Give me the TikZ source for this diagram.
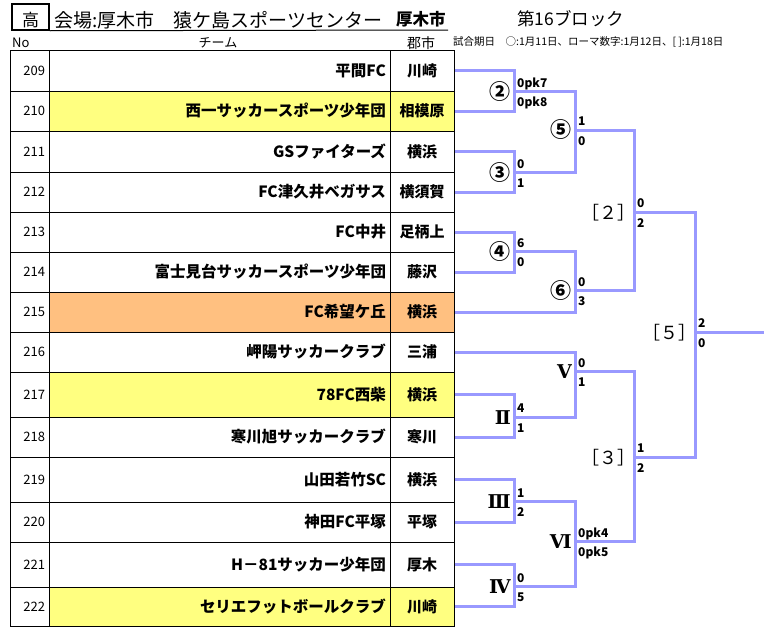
\documentclass[tikz,border=0pt]{standalone}
\usepackage{fontspec}
\setmainfont{Noto Sans CJK JP}
\newfontfamily\romfont{DejaVu Serif}
\definecolor{bline}{RGB}{153,153,255}
\definecolor{hlyellow}{RGB}{255,255,128}
\definecolor{hlorange}{RGB}{255,192,128}

\begin{document}
\begin{tikzpicture}[x=1pt,y=-1pt,
		cell/.style={draw,line width=1pt,inner ysep=0pt},
		nocell/.style={cell,fill=white,text width=31pt,inner xsep=4pt,align=right,font=\fontsize{13}{13}\selectfont},
		teamcell/.style={cell,fill=white,text width=333pt,inner xsep=4pt,align=right,font=\fontsize{15.5}{15.5}\selectfont\bfseries},
		citycell/.style={cell,fill=white,text width=56pt,inner xsep=4pt,align=center,font=\fontsize{15}{15}\selectfont\bfseries},
		bracket/.style={draw=bline,line width=3pt},
		sc/.style={font=\fontsize{12}{12}\selectfont\bfseries,inner sep=1pt,text height=9pt,text depth=2.5pt},
		sct/.style={sc,anchor=south west,xshift=2pt,yshift=1pt},
		scb/.style={sc,anchor=north west,xshift=2pt,yshift=-5pt},
		lab/.style={anchor=east,inner sep=0pt,xshift=-3pt,font=\fontsize{21}{21}\selectfont\bfseries},
		romlab/.style={lab,font=\fontsize{19}{19}\selectfont\romfont\bfseries},
		brlab/.style={anchor=east,inner sep=0pt,xshift=2pt,font=\fontsize{18}{18}\selectfont}]
		\useasboundingbox[fill=white] (0,0) rectangle (764,632);
		% header
		\node[draw,line width=1.5pt,minimum width=37pt,minimum height=26pt,inner sep=0pt](hbox) at (30.5,17) {};
		\node[font=\fontsize{17}{17}\selectfont](hmark) at (30.5,20) {高};
		\node[anchor=west,inner sep=0pt,font=\fontsize{19}{19}\selectfont](venue) at (54,20) {会場:厚木市　猿ケ島スポーツセンター};
		\node[anchor=west,inner sep=0pt,font=\fontsize{16.5}{16.5}\selectfont\bfseries](vcity) at (396,19) {厚木市};
		\node[anchor=west,inner sep=0pt,font=\fontsize{17.5}{17.5}\selectfont](block) at (517,19) {第16ブロック};
		\coordinate (ulend) at (448,30);
		\draw[line width=1pt] (hbox.south east) -- (ulend);
		\node[anchor=west,inner sep=0pt,font=\fontsize{13}{13}\selectfont](hno) at (12,43) {No};
		\node[inner sep=0pt,font=\fontsize{13}{13}\selectfont](hteam) at (218,43) {チーム};
		\node[inner sep=0pt,font=\fontsize{14}{14}\selectfont](hcity) at (421,43) {郡市};
		\node[anchor=west,inner sep=0pt,font=\fontsize{10.5}{10.5}\selectfont](legend) at (453,42) {試合期日　○:1月11日、ローマ数字:1月12日、[ ]:1月18日};
		% rows
		\node[nocell,minimum height=41pt](n209) at (29.5,70.5) {209};
		\node[teamcell,minimum height=41pt](t209) at (219.5,70.5) {平間FC};
		\node[citycell,minimum height=41pt](c209) at (422,70.5) {川崎};
		\node[nocell,minimum height=40pt](n210) at (29.5,111) {210};
		\node[teamcell,fill=hlyellow,minimum height=40pt](t210) at (219.5,111) {西一サッカースポーツ少年団};
		\node[citycell,fill=hlyellow,minimum height=40pt](c210) at (422,111) {相模原};
		\node[nocell,minimum height=41pt](n211) at (29.5,151.5) {211};
		\node[teamcell,minimum height=41pt](t211) at (219.5,151.5) {GSファイターズ};
		\node[citycell,minimum height=41pt](c211) at (422,151.5) {横浜};
		\node[nocell,minimum height=40pt](n212) at (29.5,192) {212};
		\node[teamcell,minimum height=40pt](t212) at (219.5,192) {FC津久井ベガサス};
		\node[citycell,minimum height=40pt](c212) at (422,192) {横須賀};
		\node[nocell,minimum height=40pt](n213) at (29.5,232) {213};
		\node[teamcell,minimum height=40pt](t213) at (219.5,232) {FC中井};
		\node[citycell,minimum height=40pt](c213) at (422,232) {足柄上};
		\node[nocell,minimum height=40pt](n214) at (29.5,272) {214};
		\node[teamcell,minimum height=40pt](t214) at (219.5,272) {富士見台サッカースポーツ少年団};
		\node[citycell,minimum height=40pt](c214) at (422,272) {藤沢};
		\node[nocell,minimum height=40pt](n215) at (29.5,312) {215};
		\node[teamcell,fill=hlorange,minimum height=40pt](t215) at (219.5,312) {FC希望ケ丘};
		\node[citycell,fill=hlorange,minimum height=40pt](c215) at (422,312) {横浜};
		\node[nocell,minimum height=40pt](n216) at (29.5,352) {216};
		\node[teamcell,minimum height=40pt](t216) at (219.5,352) {岬陽サッカークラブ};
		\node[citycell,minimum height=40pt](c216) at (422,352) {三浦};
		\node[nocell,minimum height=45pt](n217) at (29.5,394.5) {217};
		\node[teamcell,fill=hlyellow,minimum height=45pt](t217) at (219.5,394.5) {78FC西柴};
		\node[citycell,fill=hlyellow,minimum height=45pt](c217) at (422,394.5) {横浜};
		\node[nocell,minimum height=40pt](n218) at (29.5,437) {218};
		\node[teamcell,minimum height=40pt](t218) at (219.5,437) {寒川旭サッカークラブ};
		\node[citycell,minimum height=40pt](c218) at (422,437) {寒川};
		\node[nocell,minimum height=45pt](n219) at (29.5,479.5) {219};
		\node[teamcell,minimum height=45pt](t219) at (219.5,479.5) {山田若竹SC};
		\node[citycell,minimum height=45pt](c219) at (422,479.5) {横浜};
		\node[nocell,minimum height=40pt](n220) at (29.5,522) {220};
		\node[teamcell,minimum height=40pt](t220) at (219.5,522) {神田FC平塚};
		\node[citycell,minimum height=40pt](c220) at (422,522) {平塚};
		\node[nocell,minimum height=45pt](n221) at (29.5,564.5) {221};
		\node[teamcell,minimum height=45pt](t221) at (219.5,564.5) {H－81サッカー少年団};
		\node[citycell,minimum height=45pt](c221) at (422,564.5) {厚木};
		\node[nocell,minimum height=39pt](n222) at (29.5,606.5) {222};
		\node[teamcell,fill=hlyellow,minimum height=39pt](t222) at (219.5,606.5) {セリエフットボールクラブ};
		\node[citycell,fill=hlyellow,minimum height=39pt](c222) at (422,606.5) {川崎};
		% bracket points
		\coordinate (m2) at (514,91.7);
		\coordinate (m3) at (514,172.7);
		\coordinate (m4) at (514,251.7);
		\coordinate (m5) at (575,130);
		\coordinate (m6) at (575,290.7);
		\coordinate (mB2) at (634,212.3);
		\coordinate (mII) at (514,417.3);
		\coordinate (mIII) at (514,501.7);
		\coordinate (mIV) at (514,586.7);
		\coordinate (mV) at (575,371.7);
		\coordinate (mVI) at (575,541.7);
		\coordinate (mB3) at (634,457.3);
		\coordinate (mB5) at (695,332.3);
		\coordinate (fin) at (764,332.3);
		\draw[bracket] (c209.east) -| (m2) |- (c210.east);
		\draw[bracket] (c211.east) -| (m3) |- (c212.east);
		\draw[bracket] (c213.east) -| (m4) |- (c214.east);
		\draw[bracket] (m2) -| (m5) |- (m3);
		\draw[bracket] (m4) -| (m6) |- (c215.east);
		\draw[bracket] (m5) -| (mB2) |- (m6);
		\draw[bracket] (c217.east) -| (mII) |- (c218.east);
		\draw[bracket] (c219.east) -| (mIII) |- (c220.east);
		\draw[bracket] (c221.east) -| (mIV) |- (c222.east);
		\draw[bracket] (c216.east) -| (mV) |- (mII);
		\draw[bracket] (mIII) -| (mVI) |- (mIV);
		\draw[bracket] (mV) -| (mB3) |- (mVI);
		\draw[bracket] (mB2) -| (mB5) |- (mB3);
		\draw[bracket] (mB5) -- (fin);
		% match labels
		\node[lab] at (m2) {②};
		\node[lab] at (m3) {③};
		\node[lab] at (m4) {④};
		\node[lab] at (m5) {⑤};
		\node[lab] at (m6) {⑥};
		\node[brlab] at (mB2) {［２］};
		\node[romlab] at (mII) {Ⅱ};
		\node[romlab] at (mIII) {Ⅲ};
		\node[romlab] at (mIV) {Ⅳ};
		\node[romlab] at (mV) {Ⅴ};
		\node[romlab] at (mVI) {Ⅵ};
		\node[brlab] at (mB3) {［３］};
		\node[brlab] at (mB5) {［５］};
		% scores
		\node[sct] at (m2) {0pk7};
		\node[scb] at (m2) {0pk8};
		\node[sct] at (m3) {0};
		\node[scb] at (m3) {1};
		\node[sct] at (m4) {6};
		\node[scb] at (m4) {0};
		\node[sct] at (m5) {1};
		\node[scb] at (m5) {0};
		\node[sct] at (m6) {0};
		\node[scb] at (m6) {3};
		\node[sct] at (mB2) {0};
		\node[scb] at (mB2) {2};
		\node[sct] at (mII) {4};
		\node[scb] at (mII) {1};
		\node[sct] at (mIII) {1};
		\node[scb] at (mIII) {2};
		\node[sct] at (mIV) {0};
		\node[scb] at (mIV) {5};
		\node[sct] at (mV) {0};
		\node[scb] at (mV) {1};
		\node[sct] at (mVI) {0pk4};
		\node[scb] at (mVI) {0pk5};
		\node[sct] at (mB3) {1};
		\node[scb] at (mB3) {2};
		\node[sct] at (mB5) {2};
		\node[scb] at (mB5) {0};
	\end{tikzpicture}
\end{document}
